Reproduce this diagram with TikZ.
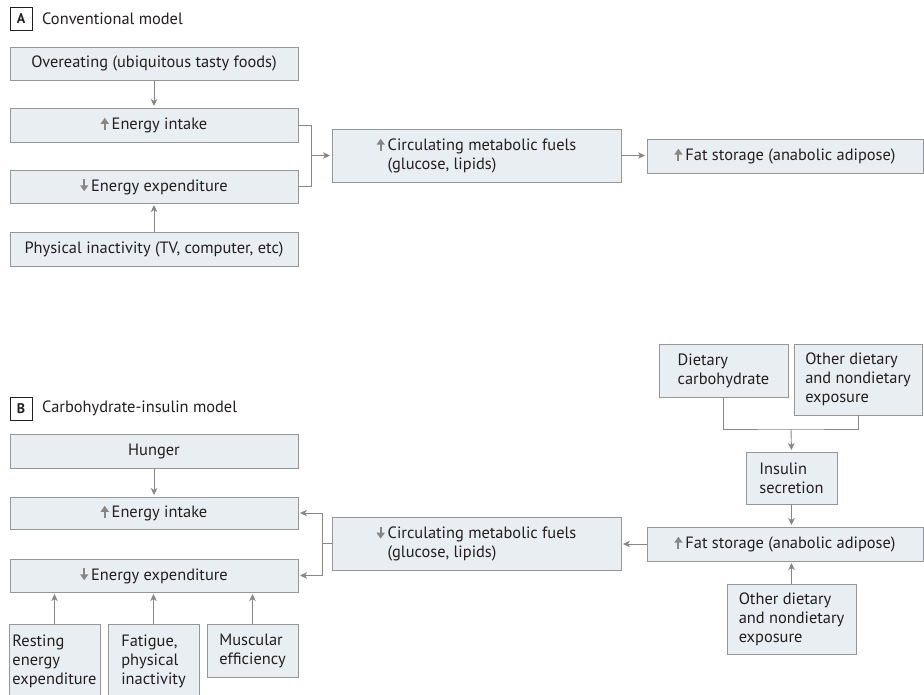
\documentclass[tikz,border=0pt]{standalone}
\usepackage{fontspec}
\setmainfont{PT Sans}
\usetikzlibrary{arrows.meta}
\definecolor{boxfill}{RGB}{232,238,242}
\definecolor{boxline}{RGB}{150,150,150}
\definecolor{arrowgrey}{RGB}{135,135,135}
\definecolor{txt}{RGB}{35,31,32}
\newcommand\uarr{\tikz[baseline=0pt]\draw[arrowgrey,line width=2pt,-{Triangle[length=6pt,width=8pt]}] (0pt,0pt) -- (0pt,12pt);\hspace{3pt}}
\newcommand\darr{\tikz[baseline=0pt]\draw[arrowgrey,line width=2pt,-{Triangle[length=6pt,width=8pt]}] (0pt,12pt) -- (0pt,0pt);\hspace{3pt}}
\tikzset{
  box/.style={draw=boxline, fill=boxfill, line width=0.8pt, inner sep=0pt, outer sep=0pt,
    align=left, text=txt, font=\fontsize{16.4}{19}\selectfont, anchor=north west},
  lab/.style={draw=txt, line width=0.7pt, inner sep=0pt, outer sep=0pt, anchor=north west,
    minimum width=22pt, minimum height=23pt, font=\fontsize{14}{16}\selectfont\bfseries, text=txt},
  title/.style={anchor=west, inner sep=0pt, text=txt, font=\fontsize{16.4}{19}\selectfont},
  conn/.style={draw=arrowgrey, line width=0.9pt},
  arr/.style={conn, -{Stealth[length=7pt,width=6.5pt,inset=2pt]}, shorten >=2pt}
}
\begin{document}
\begin{tikzpicture}[x=1pt,y=-1pt]
\clip (0,0) rectangle (924,694);
\fill[white] (0,0) rectangle (924,694);
% Panel A
\node[lab] (labA) at (10,7) {A};
\node[title] (titA) at (42,19) {Conventional model};
\node[box, minimum width=288pt, minimum height=33pt] (over) at (10,47) {Overeating (ubiquitous tasty foods)};
\node[box, minimum width=288pt, minimum height=34pt] (intA) at (10,108) {\uarr Energy intake};
\node[box, minimum width=288pt, minimum height=33pt] (expA) at (10,170) {\darr Energy expenditure};
\node[box, minimum width=288pt, minimum height=34pt] (physA) at (10,232) {Physical inactivity (TV, computer, etc)};
\node[box, minimum width=289pt, minimum height=53pt] (circA) at (332,129) {\uarr Circulating metabolic fuels\\ \hphantom{\uarr}(glucose, lipids)};
\node[box, minimum width=276pt, minimum height=34pt] (fatA) at (647,139) {\uarr Fat storage (anabolic adipose)};
\coordinate (jA) at (311,155.5);
\draw[arr] (over.south) -- (intA.north);
\draw[arr] (physA.north) -- (expA.south);
\draw[conn] (intA.east) -| (jA);
\draw[conn] (expA.east) -| (jA);
\draw[arr] (jA) -- (circA.west);
\draw[arr] (circA.east) -- (circA.east -| fatA.west);
% Panel B
\node[lab] (labB) at (10,397) {B};
\node[title] (titB) at (42,408.5) {Carbohydrate-insulin model};
\node[box, minimum width=288pt, minimum height=34pt] (hunger) at (10,434) {Hunger};
\node[box, minimum width=288pt, minimum height=32pt] (intB) at (10,497) {\uarr Energy intake};
\node[box, minimum width=288pt, minimum height=33pt] (expB) at (10,559) {\darr Energy expenditure};
\node[box, minimum width=91pt, minimum height=74pt] (rest) at (9,624) {Resting\\energy\\expenditure};
\node[box, minimum width=91pt, minimum height=74pt] (fatig) at (108,624) {Fatigue,\\physical\\inactivity};
\node[box, minimum width=91pt, minimum height=53pt] (musc) at (207,624) {Muscular\\efficiency};
\node[box, minimum width=289pt, minimum height=53pt] (circB) at (332,517) {\darr Circulating metabolic fuels\\ \hphantom{\darr}(glucose, lipids)};
\node[box, minimum width=276pt, minimum height=34pt] (fatB) at (647,527) {\uarr Fat storage (anabolic adipose)};
\node[box, minimum width=129pt, minimum height=70pt] (otherB) at (727,584) {Other dietary\\and nondietary\\exposure};
\node[box, minimum width=91pt, minimum height=52pt] (insulin) at (746,452) {Insulin\\secretion};
\node[box, minimum width=129pt, minimum height=53pt] (diet) at (659,344) {Dietary\\carbohydrate};
\node[box, minimum width=128pt, minimum height=71pt] (otherT) at (794,344) {Other dietary\\and nondietary\\exposure};
\coordinate (jB) at (322,543.5);
\coordinate (jT) at (791,429);
\draw[arr] (hunger.south) -- (intB.north);
\draw[arr] (rest.north) -- (rest.north |- expB.south);
\draw[arr] (fatig.north) -- (fatig.north |- expB.south);
\draw[arr] (musc.north) -- (musc.north |- expB.south);
\draw[conn] (circB.west) -- (jB);
\draw[arr] (jB) |- (intB.east);
\draw[arr] (jB) |- (expB.east);
\draw[arr] (fatB.west) -- (fatB.west -| circB.east);
\draw[conn] (diet.south) |- (jT) -| (otherT.south);
\draw[arr] (jT) -- (insulin.north);
\draw[arr] (insulin.south) -- (insulin.south |- fatB.north);
\draw[arr] (otherB.north) -- (otherB.north |- fatB.south);
\end{tikzpicture}
\end{document}
